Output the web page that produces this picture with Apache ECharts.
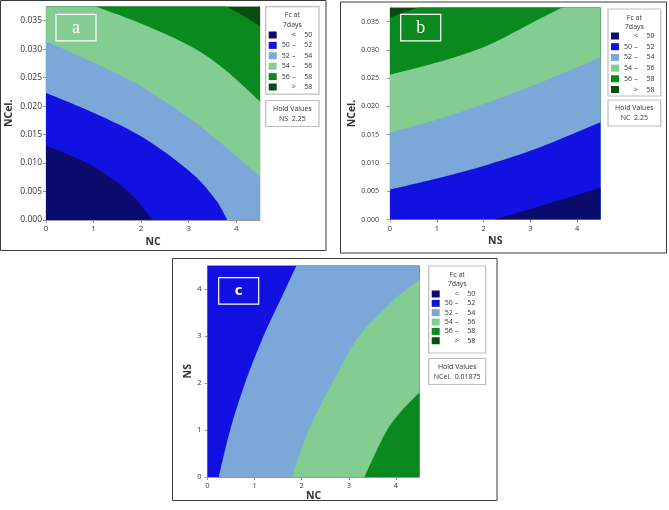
<!DOCTYPE html>
<html>
<head>
<meta charset="utf-8">
<script src="https://cdn.jsdelivr.net/npm/echarts@6/dist/echarts.min.js"></script>
<style>
  html, body { margin: 0; padding: 0; background: #fff; }
  #chart { width: 669px; height: 510px; }
</style>
</head>
<body>
<div id="chart"></div>
<script>
  // axis ranges and ticks
  var ncMax = 4.5, nsMax = 4.5, celMax = 0.0375;
  var ncTicks = [0, 1, 2, 3, 4];
  var nsTicks = [0, 1, 2, 3, 4];
  var celTicks = [0, 0.005, 0.010, 0.015, 0.020, 0.025, 0.030, 0.035];

  var bandNames = ['< 50', '50 – 52', '52 – 54', '54 – 56', '56 – 58', '> 58'];
  var bandColors = ['#0b0b6e', '#1111e2', '#7ca7d9', '#83cd93', '#0a8a1e', '#074e0e'];

  // panel a : NC vs NCel. (hold NS 2.25), contour edges as [NC, NCel.]
  var aEdge50 = [[0, 0.0131], [0.5, 0.0114], [1.0, 0.0094], [1.5, 0.0066], [1.9, 0.0036], [2.235, 0]];
  var aEdge52 = [[0, 0.0223], [1.01, 0.0188], [2.06, 0.0144], [3.11, 0.0079], [3.6, 0.0032], [3.81, 0]];
  var aEdge54 = [[0, 0.0314], [1.01, 0.0276], [2.06, 0.0232], [3.11, 0.0173], [3.81, 0.0126], [4.5, 0.0076]];
  var aEdge56 = [[0, 0.0404], [1.04, 0.0375], [2.06, 0.0343], [3.11, 0.0302], [3.81, 0.0261], [4.5, 0.0208]];
  var aEdge58 = [[0, 0.048], [2.5, 0.042], [3.78, 0.0375], [4.16, 0.0358], [4.5, 0.0340]];

  // panel b : NS vs NCel. (hold NC 2.25), edges as [NS, NCel.]
  var bEdge50 = [[2.23, 0], [3.15, 0.0022], [4.5, 0.0056]];
  var bEdge52 = [[0, 0.0053], [1.02, 0.0073], [2.09, 0.0097], [3.15, 0.0126], [4.5, 0.0172]];
  var bEdge54 = [[0, 0.0154], [1.02, 0.0177], [2.09, 0.0207], [3.15, 0.0240], [4.5, 0.0287]];
  var bEdge56 = [[0, 0.0256], [1.02, 0.0278], [2.09, 0.0308], [3.15, 0.0353], [3.68, 0.0375], [4.5, 0.0410]];
  var bEdge58 = [[0, 0.0357], [0.6, 0.0375], [2.0, 0.0415], [4.5, 0.048]];

  // panel c : NC vs NS (hold NCel. 0.01875), edges as [NC, NS]
  var cEdge52 = [[0.24, 0], [0.475, 0.98], [0.79, 1.98], [1.18, 2.98], [1.64, 3.97], [1.89, 4.5], [2.2, 5.1], [4.5, 6.0]];
  var cEdge54 = [[1.79, 0], [2.14, 0.98], [2.64, 1.98], [3.2, 2.98], [3.95, 3.76], [4.5, 4.2]];
  var cEdge56 = [[3.33, 0], [3.8, 0.98], [4.12, 1.41], [4.5, 1.8]];

  var font = '"Open Sans", "Noto Sans", sans-serif';

  function layer(gi, band, data) {
    var c = bandColors[band];
    return {
      type: 'line', name: bandNames[band], xAxisIndex: gi, yAxisIndex: gi,
      data: data, smooth: 0.3,
      symbol: 'none', showSymbol: false, silent: true, clip: true,
      color: c, itemStyle: { color: c }, lineStyle: { width: 0, color: c },
      areaStyle: { color: c, opacity: 1 }
    };
  }

  function xAx(gi, name, ticks, max, fs, gap) {
    return {
      type: 'value', gridIndex: gi, min: 0, max: max,
      name: name, nameLocation: 'middle', nameGap: gap,
      nameTextStyle: { fontSize: 10.5, fontWeight: 'bold', color: '#333', fontFamily: font },
      axisLine: { show: true, lineStyle: { color: '#999', width: 1 } },
      axisTick: { show: true, length: 3, customValues: ticks, lineStyle: { color: '#999' } },
      axisLabel: { customValues: ticks, fontSize: fs, color: '#333', margin: 5, fontFamily: font },
      splitLine: { show: false }
    };
  }

  function yAx(gi, name, ticks, max, fs, gap, margin, fmt) {
    return {
      type: 'value', gridIndex: gi, min: 0, max: max,
      name: name, nameLocation: 'middle', nameGap: gap,
      nameTextStyle: { fontSize: 10.5, fontWeight: 'bold', color: '#333', fontFamily: font },
      axisLine: { show: true, lineStyle: { color: '#999', width: 1 } },
      axisTick: { show: true, length: 3, customValues: ticks, lineStyle: { color: '#999' } },
      axisLabel: { customValues: ticks, fontSize: fs, color: '#333', margin: margin, fontFamily: font, formatter: fmt },
      splitLine: { show: false }
    };
  }

  var celFmt = function (v) { return v.toFixed(3); };
  var intFmt = function (v) { return String(v); };

  function legendAt(left, top, gap) {
    return {
      data: bandNames, orient: 'vertical', left: left, top: top, padding: 0,
      icon: 'rect', itemWidth: 8, itemHeight: 7, itemGap: gap, selectedMode: false,
      textStyle: {
        fontSize: 7, color: '#333', fontFamily: font, lineHeight: 7,
        rich: {
          a: { width: 9, fontSize: 7, color: '#333', fontFamily: font, lineHeight: 7 },
          b: { width: 6, align: 'center', fontSize: 7, color: '#333', fontFamily: font, lineHeight: 7 },
          s: { width: 7.5, fontSize: 7, lineHeight: 7 },
          c: { fontSize: 7, color: '#333', fontFamily: font, lineHeight: 7 }
        }
      },
      formatter: function (n) {
        var p = n.split(' ');
        if (p.length === 3) return '{a|' + p[0] + '}{b|–}{s| }{c|' + p[2] + '}';
        return '{a| }{b|' + p[0] + '}{s| }{c|' + p[1] + '}';
      }
    };
  }

  function boxes(x, y, w, h, hy, hold) {
    var t = { fill: '#333', fontSize: 7, fontFamily: font, align: 'center', verticalAlign: 'middle' };
    var cx = x + w / 2;
    return [
      { type: 'rect', z: 0, shape: { x: x, y: y, width: w, height: h }, style: { fill: '#fff', stroke: '#bdbdbd', lineWidth: 1.2 } },
      { type: 'text', z: 5, style: Object.assign({ text: 'Fc at', x: cx, y: y + 8.5 }, t) },
      { type: 'text', z: 5, style: Object.assign({ text: '7days', x: cx, y: y + 18 }, t) },
      { type: 'rect', z: 0, shape: { x: x, y: hy, width: w, height: 26 }, style: { fill: '#fff', stroke: '#bdbdbd', lineWidth: 1.2 } },
      { type: 'text', z: 5, style: Object.assign({ text: 'Hold Values', x: cx, y: hy + 8 }, t) },
      { type: 'text', z: 5, style: Object.assign({ text: hold, x: cx, y: hy + 18 }, t) }
    ];
  }

  function tag(x, y, letter, fam, fs, bold) {
    return [
      { type: 'rect', z: 10, shape: { x: x, y: y, width: 40, height: 26.5 }, style: { fill: 'none', stroke: '#fff', lineWidth: 1.2 } },
      { type: 'text', z: 10, style: { text: letter, x: x + 20, y: y + 13.5, fill: '#fff', fontSize: fs, fontFamily: fam, fontWeight: bold ? 'bold' : 'normal', align: 'center', verticalAlign: 'middle' } }
    ];
  }

  function frame(x, y, w, h) {
    return { type: 'rect', z: 10, shape: { x: x, y: y, width: w, height: h }, style: { fill: 'none', stroke: '#3a3a3a', lineWidth: 1 } };
  }

  var option = {
    backgroundColor: '#fff',
    animation: false,
    grid: [
      { left: 46, top: 6.5, width: 214, height: 213.5, show: true, borderColor: '#c4c4c4', borderWidth: 1 },
      { left: 390, top: 7.5, width: 210.5, height: 212, show: true, borderColor: '#c4c4c4', borderWidth: 1 },
      { left: 207.5, top: 265.5, width: 212, height: 211.5, show: true, borderColor: '#c4c4c4', borderWidth: 1 }
    ],
    xAxis: [
      xAx(0, 'NC', ncTicks, ncMax, 8, 17),
      xAx(1, 'NS', nsTicks, nsMax, 7.5, 16),
      xAx(2, 'NC', ncTicks, ncMax, 7.5, 13)
    ],
    yAxis: [
      yAx(0, 'NCel.', celTicks, celMax, 8.5, 31, 4, celFmt),
      yAx(1, 'NCel.', celTicks, celMax, 7, 29, 11, celFmt),
      yAx(2, 'NS', nsTicks, nsMax, 7.5, 14, 6, intFmt)
    ],
    legend: [
      legendAt(268.7, 31.5, 3.4),
      legendAt(611, 32.5, 3.7),
      legendAt(431.7, 290.5, 2.35)
    ],
    series: [
      layer(0, 5, [[0, celMax], [ncMax, celMax]]),
      layer(0, 4, aEdge58),
      layer(0, 3, aEdge56),
      layer(0, 2, aEdge54),
      layer(0, 1, aEdge52),
      layer(0, 0, aEdge50),

      layer(1, 5, [[0, celMax], [nsMax, celMax]]),
      layer(1, 4, bEdge58),
      layer(1, 3, bEdge56),
      layer(1, 2, bEdge54),
      layer(1, 1, bEdge52),
      layer(1, 0, bEdge50),

      layer(2, 1, [[0, nsMax], [ncMax, nsMax]]),
      layer(2, 2, cEdge52),
      layer(2, 3, cEdge54),
      layer(2, 4, cEdge56)
    ],
    graphic: [].concat(
      boxes(265.7, 6.7, 53.3, 87.5, 100.5, 'NS  2.25'),
      boxes(608, 9, 52.7, 87, 100, 'NC  2.25'),
      boxes(428.7, 266, 57, 87, 358.5, 'NCel.  0.01875'),
      tag(56, 14.3, 'a', '"Liberation Serif", serif', 18, false),
      tag(400.7, 14.3, 'b', '"Liberation Serif", serif', 18, false),
      tag(218.7, 277.7, 'c', font, 15, true),
      [frame(0.5, 0.5, 325.5, 250), frame(340.5, 2, 326, 251), frame(172.5, 258.5, 324.5, 242)]
    )
  };

  var myChart = echarts.init(document.getElementById('chart'));
  myChart.setOption(option);
  window.addEventListener('resize', function () {
    myChart.resize();
  }, false);
</script>
</body>
</html>
